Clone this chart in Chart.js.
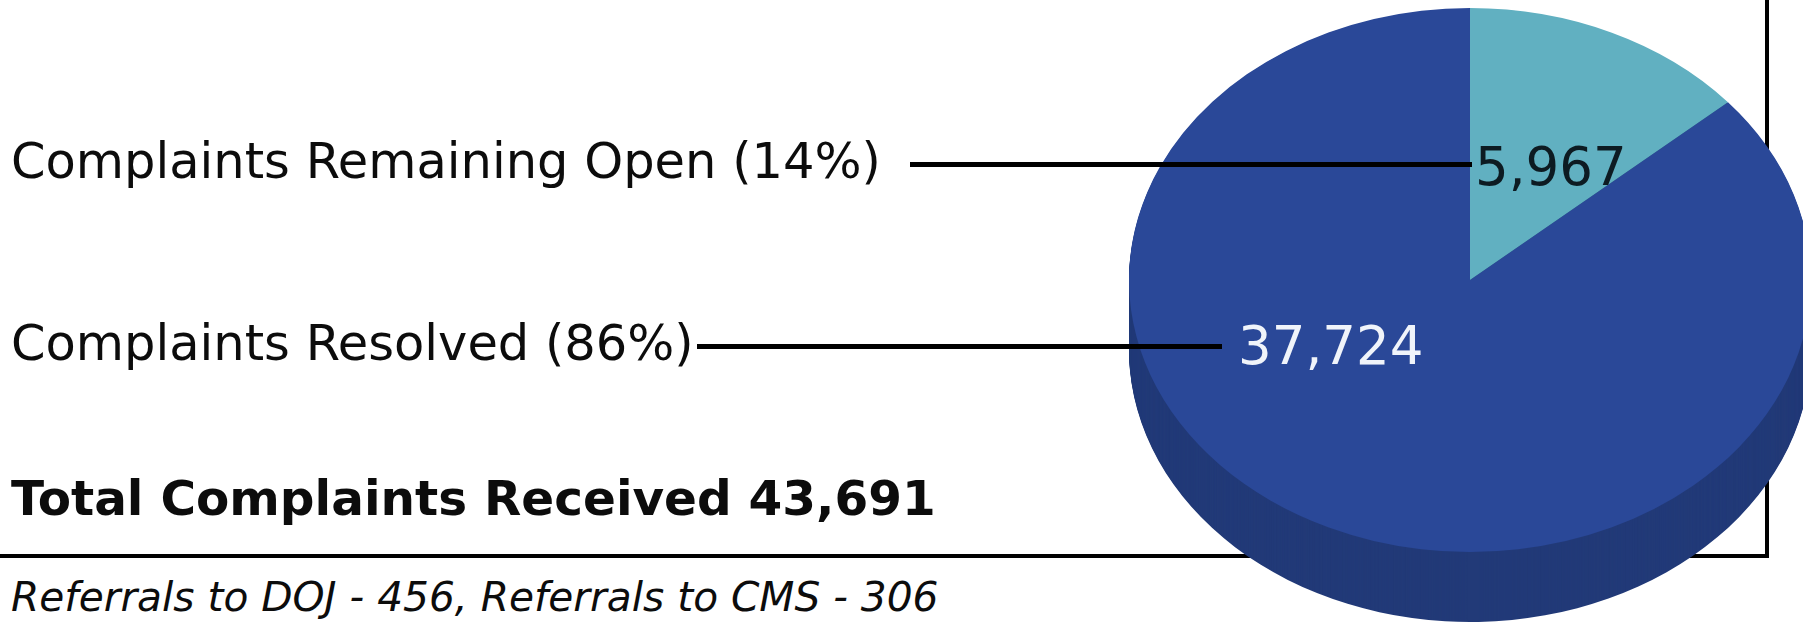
<!DOCTYPE html>
<html>
<head>
<meta charset="utf-8">
<script src="https://cdn.jsdelivr.net/npm/chart.js@4.4.1/dist/chart.umd.min.js"></script>
<style>
  body {
    margin: 0;
    width: 1803px;
    height: 627px;
    overflow: hidden;
    background: #fff;
    position: relative;
    font-family: "DejaVu Sans", Verdana, sans-serif;
    color: #0c0c0c;
  }
  .txt { position: absolute; left: 11px; line-height: 1; white-space: nowrap; }
  .frame { position: absolute; background: #000; z-index: 0; }
  .lead { position: absolute; background: #000; height: 5px; z-index: 2; }
  #pie { position: absolute; left: 1090px; top: -100px; z-index: 1; }
</style>
</head>
<body>
<div class="frame" style="left:1765px; top:0; width:4px; height:558px;"></div>
<div class="frame" style="left:0; top:554px; width:1769px; height:4px;"></div>

<div class="txt" id="lblOpen" style="top:137px; font-size:49.5px;"></div>
<div class="txt" id="lblResolved" style="top:319px; font-size:49.5px;"></div>
<div class="txt" id="lblTotal" style="top:474px; font-size:48.5px; font-weight:bold;"></div>
<div class="txt" id="lblRef" style="top:577px; font-size:40.7px; font-style:italic;"></div>

<div class="lead" style="left:910px; top:162px; width:562px;"></div>
<div class="lead" style="left:697px; top:344px; width:525px;"></div>

<canvas id="pie" width="760" height="760"></canvas>

<script>
// data
const categories = ['Complaints Remaining Open', 'Complaints Resolved'];
const complaints = [5967, 37724];
const shares = [14, 86];
const totalReceived = 43691;
const referralTargets = ['DOJ', 'CMS'];
const referralCounts = [456, 306];

const topColors = ['#61b0c1', '#2a4898'];
const sideColors = ['#3f7f8e', '#223a78'];
const labelColors = ['#0d1b22', '#f0f4fa'];

const fmt = n => n.toLocaleString('en-US');

document.getElementById('lblOpen').textContent = categories[0] + ' (' + shares[0] + '%)';
document.getElementById('lblResolved').textContent = categories[1] + ' (' + shares[1] + '%)';
document.getElementById('lblTotal').textContent = 'Total Complaints Received ' + fmt(totalReceived);
document.getElementById('lblRef').textContent = referralTargets
  .map((t, i) => 'Referrals to ' + t + ' - ' + referralCounts[i]).join(', ');

// flatten the pie into an ellipse and give it a side
const squash = 272 / 341;
const depth = 70;

const pie3d = {
  id: 'pie3d',
  beforeDatasetsDraw(chart) {
    const ctx = chart.ctx;
    const arcs = chart.getDatasetMeta(0).data;
    const cx = arcs[0].x, cy = arcs[0].y;
    ctx.save();
    ctx.translate(cx, cy);
    ctx.scale(1, squash);
    ctx.translate(-cx, -cy);
    for (let s = depth; s > 0; s--) {
      arcs.forEach((a, i) => {
        const y = a.y + s / squash;
        ctx.fillStyle = sideColors[i];
        ctx.beginPath();
        ctx.moveTo(a.x, y);
        ctx.arc(a.x, y, a.outerRadius, a.startAngle, a.endAngle);
        ctx.closePath();
        ctx.fill();
      });
    }
  },
  afterDatasetsDraw(chart) {
    const ctx = chart.ctx;
    ctx.restore();
    const arcs = chart.getDatasetMeta(0).data;
    const cx = arcs[0].x, cy = arcs[0].y;
    ctx.save();
    ctx.textBaseline = 'alphabetic';
    ctx.textAlign = 'left';
    ctx.font = '53px "DejaVu Sans"';
    ctx.fillStyle = labelColors[0];
    ctx.fillText(fmt(complaints[0]), cx + 5, cy - 95);
    ctx.font = '53px "DejaVu Sans"';
    ctx.fillStyle = labelColors[1];
    ctx.fillText(fmt(complaints[1]), cx - 232, cy + 84);
    ctx.restore();
  }
};

new Chart(document.getElementById('pie').getContext('2d'), {
  type: 'pie',
  data: {
    labels: categories,
    datasets: [{
      data: complaints,
      backgroundColor: topColors,
      borderWidth: 0,
      clip: false
    }]
  },
  options: {
    responsive: false,
    animation: false,
    events: [],
    layout: { padding: 39 },
    plugins: {
      legend: { display: false },
      tooltip: { enabled: false }
    }
  },
  plugins: [pie3d]
});
</script>
</body>
</html>
